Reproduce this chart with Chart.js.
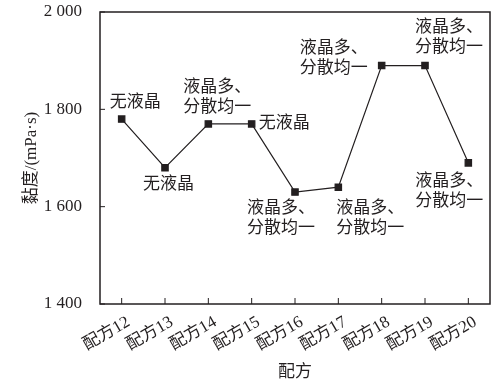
<!DOCTYPE html>
<html>
<head>
<meta charset="utf-8">
<script src="https://cdn.jsdelivr.net/npm/chart.js@4/dist/chart.umd.min.js"></script>
<style>
  html, body { margin: 0; padding: 0; background: #fff; }
  #wrap { width: 502px; height: 385px; }
</style>
</head>
<body>
<div id="wrap"><canvas id="chart"></canvas></div>
<script>
// dados
const categorias = ['配方12', '配方13', '配方14', '配方15', '配方16', '配方17', '配方18', '配方19', '配方20'];
const viscosidade = [1780, 1680, 1770, 1770, 1630, 1640, 1890, 1890, 1690];
const notas = [
    ['无液晶'],
    ['无液晶'],
    ['液晶多、', '分散均一'],
    ['无液晶'],
    ['液晶多、', '分散均一'],
    ['液晶多、', '分散均一'],
    ['液晶多、', '分散均一'],
    ['液晶多、', '分散均一'],
    ['液晶多、', '分散均一']
];
const yTicks = [1400, 1600, 1800, 2000];

// posição das notas (px relativo ao ponto)
const notaOffset = [
    [-12, -17], [-22, 17], [-25, -36], [7, 0], [-48, 16],
    [-2, 21], [-82, -17], [-10, -38], [-53, 19]
];

const FONTE = "'Liberation Serif', 'Noto Sans CJK SC', serif";
const COR = '#231f20';

const moldura = {
    id: 'moldura',
    afterDraw(chart) {
        const { ctx, chartArea: a, scales } = chart;
        ctx.save();
        ctx.strokeStyle = COR;
        ctx.lineWidth = 1.5;
        ctx.strokeRect(a.left, a.top, a.right - a.left, a.bottom - a.top);
        ctx.lineWidth = 1;
        // ticks internos
        yTicks.forEach(v => {
            const y = scales.y.getPixelForValue(v);
            ctx.beginPath(); ctx.moveTo(a.left, y); ctx.lineTo(a.left + 5, y); ctx.stroke();
        });
        categorias.forEach((c, i) => {
            const x = scales.x.getPixelForValue(i);
            ctx.beginPath(); ctx.moveTo(x, a.bottom); ctx.lineTo(x, a.bottom - 6); ctx.stroke();
        });
        // notas
        ctx.fillStyle = COR;
        ctx.font = '17px ' + FONTE;
        ctx.textAlign = 'left';
        ctx.textBaseline = 'middle';
        notas.forEach((linhas, i) => {
            const px = scales.x.getPixelForValue(i);
            const py = scales.y.getPixelForValue(viscosidade[i]);
            const [dx, dy] = notaOffset[i];
            linhas.forEach((t, k) => ctx.fillText(t, px + dx, py + dy + k * 20));
        });
        ctx.restore();
    }
};

new Chart(document.getElementById('chart'), {
    type: 'line',
    data: {
        labels: categorias,
        datasets: [{
            data: viscosidade,
            borderColor: COR,
            borderWidth: 1.2,
            pointStyle: 'rect',
            pointRadius: 4.5,
            pointBackgroundColor: COR,
            pointBorderColor: COR,
            tension: 0
        }]
    },
    options: {
        responsive: true,
        maintainAspectRatio: false,
        animation: false,
        layout: { padding: { left: 0, right: 12, top: 12, bottom: 0 } },
        plugins: { legend: { display: false }, tooltip: { enabled: false } },
        scales: {
            x: {
                offset: true,
                grid: { display: false },
                border: { display: false },
                ticks: {
                    color: COR,
                    font: { family: FONTE, size: 17 },
                    autoSkip: false,
                    minRotation: 30,
                    maxRotation: 30,
                    labelOffset: 7,
                    padding: 0
                },
                title: {
                    display: true,
                    text: '配方',
                    color: COR,
                    font: { family: FONTE, size: 17 },
                    padding: { top: 0, bottom: 2 }
                },
                afterFit(scale) {
                    scale.height = 81;
                    scale.paddingLeft = 0; scale.paddingRight = 0;
                }
            },
            y: {
                min: 1400,
                max: 2000,
                grid: { display: false },
                border: { display: false },
                afterBuildTicks(scale) { scale.ticks = yTicks.map(v => ({ value: v })); },
                ticks: {
                    color: COR,
                    font: { family: FONTE, size: 17 },
                    padding: 10,
                    callback: v => String(v).replace(/\B(?=(\d{3})+(?!\d))/g, ' ')
                },
                title: {
                    display: true,
                    text: '黏度/(mPa·s)',
                    color: COR,
                    font: { family: FONTE, size: 17 },
                    padding: { top: 21, bottom: 0 }
                },
                afterFit(scale) {
                    scale.width = 100;
                    scale.paddingTop = 0; scale.paddingBottom = 0;
                }
            }
        }
    },
    plugins: [moldura]
});
</script>
</body>
</html>
